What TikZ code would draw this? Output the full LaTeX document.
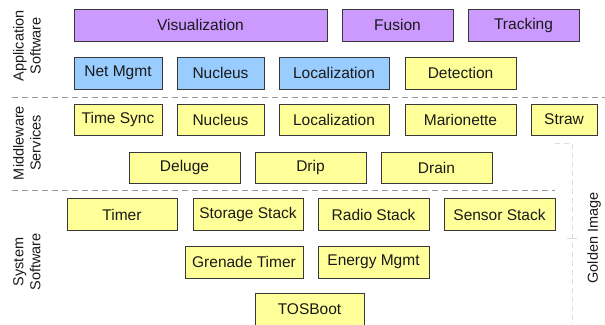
\documentclass[tikz,border=0pt]{standalone}
\usepackage{fontspec}
\setmainfont{Liberation Sans}
\definecolor{appc}{HTML}{CC99FF}
\definecolor{bluec}{HTML}{99CCFF}
\definecolor{yelc}{HTML}{FFFF99}
\definecolor{txtc}{HTML}{1A1A1A}
\definecolor{sepc}{HTML}{9A9A9A}
\definecolor{goldc}{HTML}{DDDDDD}
\begin{document}
\begin{tikzpicture}[x=1pt,y=-1pt,
  box/.style={draw=black!78, line width=1pt, text=txtc, inner sep=0pt,
    font=\fontsize{15.5}{17}\selectfont, minimum height=32pt},
  app/.style={box, fill=appc},
  blu/.style={box, fill=bluec},
  yel/.style={box, fill=yelc},
  sep/.style={draw=sepc, line width=1pt, dash pattern=on 6pt off 4pt},
  gold/.style={draw=goldc, line width=0.8pt, dash pattern=on 5pt off 4pt},
  side/.style={rotate=90, align=center, text=txtc, font=\fontsize{14.5}{17}\selectfont}]
\useasboundingbox (0,0) rectangle (605,324);
\clip (0,0) rectangle (605,324);
% Row 1
\node[app, minimum width=253pt] (vis) at (200.5,25) {Visualization};
\node[app, minimum width=111pt] (fus) at (397.5,25) {Fusion};
\node[app, minimum width=111pt] (trk) at (523.5,25) {Tracking};
% Row 2
\node[blu, minimum width=88pt] (net) at (118,73) {Net Mgmt};
\node[blu, minimum width=87pt] (nuc1) at (220.5,73) {Nucleus};
\node[blu, minimum width=110pt] (loc1) at (334,73) {Localization};
\node[yel, minimum width=111pt] (det) at (460.5,73) {Detection};
% separator
\coordinate (s1a) at (12,97);
\coordinate (s1b) at (605,97);
\draw[sep] (s1a) -- (s1b);
% Row 3
\node[yel, minimum width=88pt, minimum height=31pt] (ts) at (118,119.5) {Time Sync};
\node[yel, minimum width=87pt, minimum height=31pt] (nuc2) at (220.5,119.5) {Nucleus};
\node[yel, minimum width=110pt, minimum height=31pt] (loc2) at (334,119.5) {Localization};
\node[yel, minimum width=111pt, minimum height=31pt] (mar) at (460.5,119.5) {Marionette};
\node[yel, minimum width=66pt, minimum height=31pt] (str) at (564,119.5) {Straw};
% Row 4
\node[yel, minimum width=111pt, minimum height=31pt] (del) at (184.5,167.5) {Deluge};
\node[yel, minimum width=111pt, minimum height=31pt] (drp) at (310.5,167.5) {Drip};
\node[yel, minimum width=111pt, minimum height=31pt] (drn) at (436.5,167.5) {Drain};
% separator
\coordinate (s2a) at (12,190);
\coordinate (s2b) at (555,190);
\draw[sep] (s2a) -- (s2b);
% Row 5
\node[yel, minimum width=110pt] (tim) at (122,214.5) {Timer};
\node[yel, minimum width=110pt] (sto) at (248,214.5) {Storage Stack};
\node[yel, minimum width=111pt] (rad) at (373.5,214.5) {Radio Stack};
\node[yel, minimum width=111pt] (sen) at (499.5,214.5) {Sensor Stack};
% Row 6
\node[yel, minimum width=118pt] (gre) at (244,262) {Grenade Timer};
\node[yel, minimum width=111pt] (ene) at (373.5,262) {Energy Mgmt};
% Row 7
\node[yel, minimum width=109pt] (tos) at (309.5,309) {TOSBoot};
% Golden image bracket
\coordinate (g1) at (555,143);
\coordinate (g2) at (572,143);
\coordinate (g3) at (572,330);
\coordinate (t1) at (567,238);
\coordinate (t2) at (577,238);
\draw[gold] (g1) -- (g2) -- (g3);
\draw[goldc, line width=0.8pt] (t1) -- (t2);
% side labels
\node[side] (lapp) at (27,46) {Application\\Software};
\node[side] (lmid) at (27,143) {Middleware\\Services};
\node[side] (lsys) at (27,262) {System\\Software};
\node[side] (lgold) at (594,238) {Golden Image};
\end{tikzpicture}
\end{document}
